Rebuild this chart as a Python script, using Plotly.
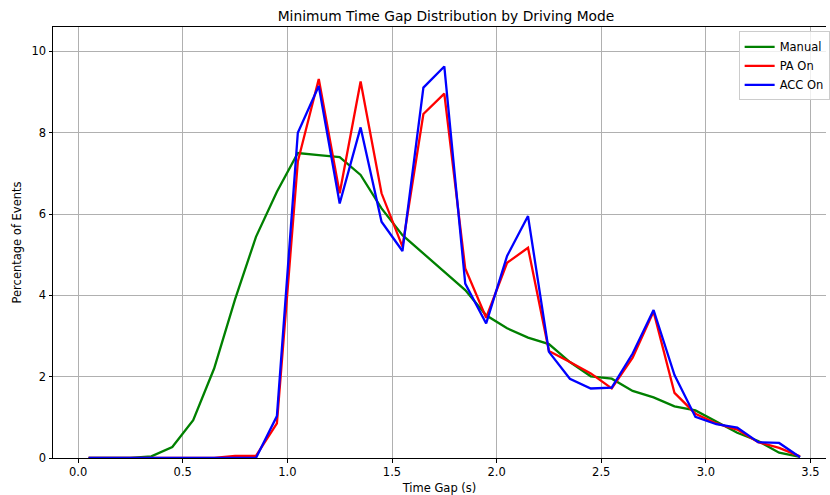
import plotly.graph_objects as go

time_gap = [0.05, 0.15, 0.25, 0.35, 0.45, 0.55, 0.65, 0.75, 0.85, 0.95,
            1.05, 1.15, 1.25, 1.35, 1.45, 1.55, 1.65, 1.75, 1.85, 1.95,
            2.05, 2.15, 2.25, 2.35, 2.45, 2.55, 2.65, 2.75, 2.85, 2.95,
            3.05, 3.15, 3.25, 3.35, 3.45]

manual = [0.0, 0.0, 0.0, 0.04, 0.27, 0.93, 2.2, 3.9, 5.44, 6.55,
          7.5, 7.45, 7.4, 6.96, 6.14, 5.48, 5.03, 4.56, 4.13, 3.51,
          3.19, 2.96, 2.8, 2.36, 2.01, 1.95, 1.65, 1.49, 1.27, 1.17,
          0.89, 0.62, 0.42, 0.13, 0.03]

pa_on = [0.0, 0.0, 0.0, 0.0, 0.0, 0.0, 0.0, 0.05, 0.05, 0.85,
         7.29, 9.32, 6.51, 9.26, 6.51, 5.2, 8.46, 8.96, 4.66, 3.45,
         4.8, 5.17, 2.63, 2.36, 2.08, 1.71, 2.47, 3.6, 1.6, 1.09,
         0.85, 0.7, 0.39, 0.25, 0.04]

acc_on = [0.0, 0.0, 0.0, 0.0, 0.0, 0.0, 0.0, 0.0, 0.0, 1.03,
          8.0, 9.15, 6.26, 8.13, 5.81, 5.09, 9.11, 9.63, 4.29, 3.31,
          4.97, 5.95, 2.61, 1.95, 1.71, 1.73, 2.57, 3.64, 2.04, 1.01,
          0.83, 0.75, 0.39, 0.37, 0.02]

series_names = ["Manual", "PA On", "ACC On"]
series_colors = ["#008000", "#ff0000", "#0000ff"]
x_ticks = [0.0, 0.5, 1.0, 1.5, 2.0, 2.5, 3.0, 3.5]
y_ticks = [0, 2, 4, 6, 8, 10]

fig = go.Figure()
for name, vals, col in zip(series_names, [manual, pa_on, acc_on], series_colors):
    fig.add_trace(go.Scatter(x=time_gap, y=vals, mode="lines", name=name,
                             line=dict(color=col, width=2.3)))

font_family = "DejaVu Sans"
fig.update_layout(
    width=830, height=495,
    margin=dict(l=53, r=0, t=27, b=37),
    paper_bgcolor="white", plot_bgcolor="white",
    font=dict(family=font_family, size=11.5, color="#000000"),
    title=dict(text="Minimum Time Gap Distribution by Driving Mode",
               font=dict(size=13.8, color="#000000"),
               x=446/830, xref="container", xanchor="center",
               y=1 - 16/495, yref="container", yanchor="middle"),
    showlegend=True,
    legend=dict(x=0.887, y=0.99, xanchor="left", yanchor="top",
                bgcolor="rgba(255,255,255,0.8)", bordercolor="#cccccc",
                borderwidth=1, font=dict(size=11.5), tracegroupgap=0),
)
fig.update_xaxes(
    range=[-0.12, 3.574], tickvals=x_ticks,
    ticktext=[f"{v:.1f}" for v in x_ticks],
    showgrid=True, gridcolor="#b0b0b0", gridwidth=0.8,
    zeroline=False, showline=True, linecolor="#000000", linewidth=1,
    mirror=True, ticks="outside", ticklen=3.5, tickcolor="#000000",
    tickfont=dict(size=11.5),
    title=dict(text="Time Gap (s)", font=dict(size=11.5), standoff=5),
)
fig.update_yaxes(
    range=[0, 10.6], tickvals=y_ticks,
    showgrid=True, gridcolor="#b0b0b0", gridwidth=0.8,
    zeroline=False, showline=True, linecolor="#000000", linewidth=1,
    mirror=False, ticks="outside", ticklen=3.5, tickcolor="#000000",
    tickfont=dict(size=11.5),
    title=dict(text="Percentage of Events", font=dict(size=11.5), standoff=7),
)

fig.write_html("out.html")
